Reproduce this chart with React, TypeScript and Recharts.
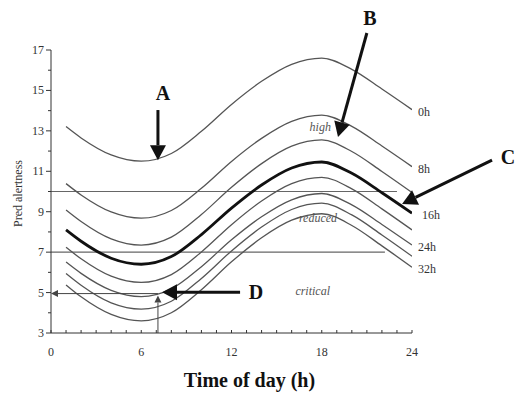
import {
  Label,
  LabelList,
  Line,
  LineChart,
  ReferenceDot,
  ReferenceLine,
  XAxis,
  YAxis,
} from 'recharts';

// hours of the day where each curve was read
const hours = [1, 2, 4, 6, 8, 10, 12, 14, 16, 18, 20, 22, 24];

// predicted alertness after N hours awake
const awake0 = [13.21, 12.65, 11.81, 11.5, 11.88, 12.98, 14.31, 15.45, 16.29, 16.6, 16.04, 15.07, 14.05];
const awake8 = [10.39, 9.83, 8.99, 8.68, 9.06, 10.16, 11.49, 12.63, 13.47, 13.78, 13.22, 12.25, 11.23];
const awake12 = [9.09, 8.52, 7.66, 7.35, 7.74, 8.86, 10.21, 11.38, 12.24, 12.55, 11.98, 10.99, 9.95];
const awake16 = [8.1, 7.54, 6.7, 6.4, 6.78, 7.87, 9.18, 10.32, 11.16, 11.46, 10.9, 9.94, 8.93];
const awake20 = [7.24, 6.67, 5.81, 5.5, 5.89, 7.01, 8.36, 9.53, 10.39, 10.7, 10.13, 9.14, 8.1];
const awake24 = [6.51, 5.95, 5.11, 4.8, 5.18, 6.28, 7.61, 8.75, 9.59, 9.9, 9.34, 8.37, 7.35];
const awake28 = [5.94, 5.36, 4.49, 4.18, 4.57, 5.7, 7.06, 8.24, 9.11, 9.42, 8.84, 7.85, 6.8];
const awake32 = [5.38, 4.79, 3.92, 3.6, 4.0, 5.14, 6.52, 7.71, 8.58, 8.9, 8.32, 7.31, 6.25];

const seriesNames = ['0h', '8h', '12h', '16h', '20h', '24h', '28h', '32h'];
const seriesValues = [awake0, awake8, awake12, awake16, awake20, awake24, awake28, awake32];
const labelledSeries = ['0h', '8h', '16h', '24h', '32h'];

const xTicks = [0, 1, 2, 3, 4, 5, 6, 7, 8, 9, 10, 11, 12, 13, 14, 15, 16, 17, 18, 19, 20, 21, 22, 23, 24];
const yTicks = [3, 4, 5, 6, 7, 8, 9, 10, 11, 12, 13, 14, 15, 16, 17];

const SERIF = '"Liberation Serif", "DejaVu Serif", serif';

function arrow(opts: { label?: string; lx?: number; ly?: number; width: number; head: number; half: number; color: string }) {
  return (props: any) => {
    const { x1, y1, x2, y2 } = props;
    const ang = Math.atan2(y2 - y1, x2 - x1);
    const bx = x2 - Math.cos(ang) * opts.head;
    const by = y2 - Math.sin(ang) * opts.head;
    const px = -Math.sin(ang) * opts.half;
    const py = Math.cos(ang) * opts.half;
    return (
      <g>
        <line x1={x1} y1={y1} x2={bx} y2={by} stroke={opts.color} strokeWidth={opts.width} />
        <polygon points={`${x2},${y2} ${bx + px},${by + py} ${bx - px},${by - py}`} fill={opts.color} />
        {opts.label && (
          <text
            x={x1 + (opts.lx ?? 0)}
            y={y1 + (opts.ly ?? 0)}
            textAnchor="middle"
            dominantBaseline="central"
            fontFamily={SERIF}
            fontWeight="bold"
            fontSize={20}
            fill="#111"
          >
            {opts.label}
          </text>
        )}
      </g>
    );
  };
}

function note(text: string) {
  return ({ viewBox }: any) => (
    <text
      x={viewBox.x + (viewBox.width || 0) / 2}
      y={viewBox.y + (viewBox.height || 0) / 2}
      textAnchor="middle"
      dominantBaseline="central"
      fontFamily={SERIF}
      fontStyle="italic"
      fontSize={12}
      fill="#555"
    >
      {text}
    </text>
  );
}

function XTick(props: any) {
  const { x, y, payload } = props;
  const v = payload.value;
  return (
    <g>
      <line x1={x} x2={x} y1={y} y2={y - 3} stroke="#333" />
      {v % 6 === 0 && (
        <text x={x} y={y + 19} textAnchor="middle" dominantBaseline="central" fontFamily={SERIF} fontSize={12} fill="#333">
          {v}
        </text>
      )}
    </g>
  );
}

function YTick(props: any) {
  const { x, y, payload } = props;
  const v = payload.value;
  const major = v % 2 === 1;
  return (
    <g>
      <line x1={x} x2={x - (major ? 5 : 3)} y1={y} y2={y} stroke="#333" />
      {major && (
        <text x={x - 7} y={y} textAnchor="end" dominantBaseline="central" fontFamily={SERIF} fontSize={12} fill="#333">
          {v}
        </text>
      )}
    </g>
  );
}

export default function App() {
  const data = hours.map((t, i) => {
    const row: any = { t };
    seriesNames.forEach((n, k) => {
      row[n] = seriesValues[k][i];
    });
    return row;
  });

  const big = { width: 3, head: 15, half: 8, color: '#111' };
  const thin = { width: 1, head: 7, half: 3.5, color: '#444' };

  return (
    <div style={{ position: 'absolute', left: 0, top: 0, width: 522, height: 397, background: '#fff' }}>
      <LineChart width={522} height={397} data={data} margin={{ top: 50, right: 110, bottom: 34, left: 11 }}>
        <XAxis
          dataKey="t"
          type="number"
          domain={[0, 24]}
          ticks={xTicks}
          interval={0}
          height={30}
          tickSize={0}
          tickMargin={0}
          tickLine={false}
          stroke="#333"
          tick={(p: any) => <XTick {...p} />}
          allowDataOverflow
        >
          <Label
            content={({ viewBox }: any) => (
              <text
                x={viewBox.x + viewBox.width / 2 + 18}
                y={viewBox.y + 54}
                textAnchor="middle"
                fontFamily={SERIF}
                fontWeight="bold"
                fontSize={20}
                fill="#111"
              >
                Time of day (h)
              </text>
            )}
          />
        </XAxis>
        <YAxis
          type="number"
          domain={[3, 17]}
          ticks={yTicks}
          interval={0}
          width={40}
          tickSize={0}
          tickMargin={0}
          tickLine={false}
          stroke="#333"
          tick={(p: any) => <YTick {...p} />}
          allowDataOverflow
        >
          <Label
            content={({ viewBox }: any) => {
              const cx = viewBox.x + 7;
              const cy = viewBox.y + viewBox.height / 2 + 2;
              return (
                <text
                  x={cx}
                  y={cy}
                  transform={`rotate(-90 ${cx} ${cy})`}
                  textAnchor="middle"
                  dominantBaseline="central"
                  fontFamily={SERIF}
                  fontSize={12}
                  fill="#333"
                >
                  Pred alertness
                </text>
              );
            }}
          />
        </YAxis>

        <ReferenceLine segment={[{ x: 0, y: 10 }, { x: 23, y: 10 }]} stroke="#666" strokeWidth={1.2} ifOverflow="visible" />
        <ReferenceLine segment={[{ x: 0, y: 7 }, { x: 22.2, y: 7 }]} stroke="#666" strokeWidth={1.2} ifOverflow="visible" />

        {seriesNames.map((n) => (
          <Line
            key={n}
            dataKey={n}
            type="monotone"
            stroke={n === '16h' ? '#111' : '#555'}
            strokeWidth={n === '16h' ? 2.8 : 1.3}
            dot={false}
            isAnimationActive={false}
          >
            {labelledSeries.includes(n) && (
              <LabelList
                dataKey={n}
                content={(p: any) =>
                  p.index === hours.length - 1 ? (
                    <text
                      x={p.x + (n === '16h' ? 10 : 6)}
                      y={p.y + 2}
                      dominantBaseline="central"
                      fontFamily={SERIF}
                      fontSize={12}
                      fill="#333"
                    >
                      {n}
                    </text>
                  ) : null
                }
              />
            )}
          </Line>
        ))}

        <ReferenceDot x={17.9} y={13.19} r={0} ifOverflow="visible" label={{ content: note('high') }} />
        <ReferenceDot x={17.75} y={8.68} r={0} ifOverflow="visible" label={{ content: note('reduced') }} />
        <ReferenceDot x={17.4} y={5.07} r={0} ifOverflow="visible" label={{ content: note('critical') }} />

        <ReferenceLine segment={[{ x: 7.11, y: 4.95 }, { x: 0, y: 4.95 }]} ifOverflow="visible" shape={arrow(thin)} />
        <ReferenceLine segment={[{ x: 7.11, y: 3 }, { x: 7.11, y: 4.85 }]} ifOverflow="visible" shape={arrow(thin)} />

        <ReferenceLine segment={[{ x: 7.11, y: 14.03 }, { x: 7.11, y: 11.55 }]} ifOverflow="visible" shape={arrow({ ...big, label: 'A', lx: 5, ly: -17 })} />
        <ReferenceLine segment={[{ x: 21.0, y: 17.84 }, { x: 19.08, y: 12.69 }]} ifOverflow="visible" shape={arrow({ ...big, label: 'B', lx: 3, ly: -15 })} />
        <ReferenceLine segment={[{ x: 29.32, y: 11.55 }, { x: 23.34, y: 9.38 }]} ifOverflow="visible" shape={arrow({ ...big, label: 'C', lx: 16, ly: -3 })} />
        <ReferenceLine segment={[{ x: 12.57, y: 5.02 }, { x: 7.38, y: 5.02 }]} ifOverflow="visible" shape={arrow({ ...big, label: 'D', lx: 16, ly: 0 })} />
      </LineChart>
    </div>
  );
}
